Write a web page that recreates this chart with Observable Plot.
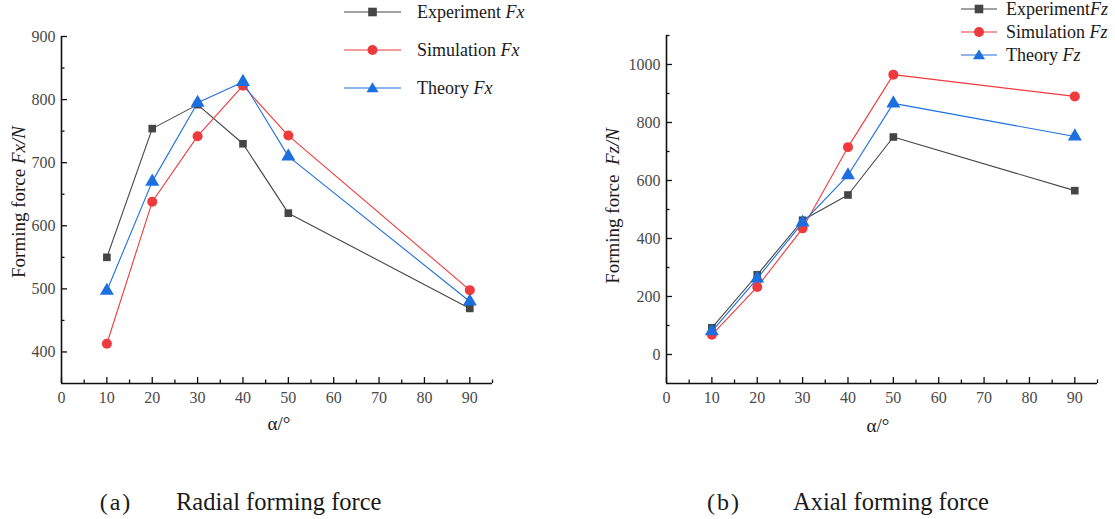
<!DOCTYPE html>
<html><head><meta charset="utf-8">
<script src="https://cdn.jsdelivr.net/npm/d3@7"></script>
<script src="https://cdn.jsdelivr.net/npm/@observablehq/plot@0.6"></script>
<style>
body{margin:0;background:#fff;font-family:"Liberation Serif","Times New Roman",serif;}
#wrap{position:relative;width:1115px;height:519px;overflow:hidden;background:#fff}
#wrap svg text{font-family:"Liberation Serif","Times New Roman",serif !important}
.panel{position:absolute;top:0}
.abs{position:absolute;white-space:nowrap;color:#1a1a1a;line-height:1;font-family:"Liberation Serif","Times New Roman",serif}
.leg{position:absolute;white-space:nowrap;font-size:18px;color:#1a1a1a;line-height:1;font-family:"Liberation Serif","Times New Roman",serif}
.cc{transform:translate(-50%,-50%)}
.ylab{transform:translate(-50%,-50%) rotate(-90deg);font-size:19px}
</style></head><body><div id="wrap"></div>
<script>
// ---- data ----
const alpha = [10, 20, 30, 40, 50, 90];
const expFx = [550, 754, 792, 730, 620, 469];
const simFx = [413, 638, 742, 822, 743, 498];
const theFx = [497, 670, 795, 828, 710, 480];
const expFz = [92, 275, 463, 550, 750, 565];
const simFz = [68, 233, 435, 715, 965, 890];
const theFz = [80, 262, 455, 618, 866, 752];
const xTicks = [0, 10, 20, 30, 40, 50, 60, 70, 80, 90];
const xMinor = [5, 15, 25, 35, 45, 55, 65, 75, 85, 95];
const fxTicks = [400, 500, 600, 700, 800, 900];
const fxMinor = [450, 550, 650, 750, 850];
const fzTicks = [0, 200, 400, 600, 800, 1000];
const fzMinor = [100, 300, 500, 700, 900, 1100];
const seriesNames = ["Experiment", "Simulation", "Theory"];
const seriesColors = ["#454545", "#ef3a3d", "#1d6fe0"];
const seriesSymbols = ["square", "circle", "triangle"];
const legendFx = ["Experiment <i>Fx</i>", "Simulation <i>Fx</i>", "Theory <i>Fx</i>"];
const legendFz = ["Experiment<i>Fz</i>", "Simulation <i>Fz</i>", "Theory <i>Fz</i>"];

const wrap = document.getElementById("wrap");
const FONT = '"Liberation Serif", "Times New Roman", serif';

function panel({values, yDomain, yTicks, yMinor, width, marginLeft, marginRight, marginTop, marginBottom}) {
  const marks = [
    Plot.axisX({ticks: xTicks, tickSize: 0, tickPadding: 8, label: null, tickFormat: d => String(d), fontFamily: FONT, fill: "#4a4a4a"}),
    Plot.axisY({ticks: yTicks, tickSize: 0, tickPadding: 6, label: null, tickFormat: d => String(d), fontFamily: FONT, fill: "#4a4a4a"}),
    Plot.ruleX(xTicks, {x: d => d, y1: yDomain[0], y2: yDomain[0], insetTop: -6, stroke: "#111", strokeWidth: 1.3}),
    Plot.ruleX(xMinor, {x: d => d, y1: yDomain[0], y2: yDomain[0], insetTop: -3.5, stroke: "#111", strokeWidth: 1.3}),
    Plot.ruleY(yTicks, {y: d => d, x1: 0, x2: 0, insetRight: -6, stroke: "#111", strokeWidth: 1.3}),
    Plot.ruleY(yMinor, {y: d => d, x1: 0, x2: 0, insetRight: -3.5, stroke: "#111", strokeWidth: 1.3}),
    Plot.ruleX([0], {y1: yDomain[0], y2: yDomain[1], stroke: "#111", strokeWidth: 1.6}),
    Plot.ruleY([yDomain[0]], {x1: 0, x2: 95, stroke: "#111", strokeWidth: 1.6})
  ];
  values.forEach((vals, k) => {
    const rows = alpha.map((a, i) => ({a, v: vals[i]}));
    const r = seriesSymbols[k] === "square" ? 4.3 : seriesSymbols[k] === "circle" ? 5 : 5.2;
    marks.push(Plot.line(rows, {x: "a", y: "v", stroke: seriesColors[k], strokeWidth: 1.1}));
    marks.push(Plot.dot(rows, {x: "a", y: "v", symbol: seriesSymbols[k], fill: seriesColors[k], r}));
  });
  return Plot.plot({
    width, height: 440, marginLeft, marginRight, marginTop, marginBottom,
    style: {fontFamily: FONT, fontSize: "16px", color: "#4a4a4a", background: "transparent", overflow: "visible"},
    x: {domain: [0, 95]},
    y: {domain: yDomain},
    marks
  });
}

const p1 = panel({values: [expFx, simFx, theFx], yDomain: [350, 900], yTicks: fxTicks, yMinor: fxMinor,
  width: 557, marginLeft: 61, marginRight: 65, marginTop: 36, marginBottom: 57});
const p2 = panel({values: [expFz, simFz, theFz], yDomain: [-100, 1100], yTicks: fzTicks, yMinor: fzMinor,
  width: 558, marginLeft: 109, marginRight: 18, marginTop: 35, marginBottom: 57});
const d1 = document.createElement("div"); d1.className = "panel"; d1.style.left = "0px"; d1.appendChild(p1); wrap.appendChild(d1);
const d2 = document.createElement("div"); d2.className = "panel"; d2.style.left = "557px"; d2.appendChild(p2); wrap.appendChild(d2);

function add(html, cls, left, top, extra) {
  const e = document.createElement("div");
  e.className = cls; e.innerHTML = html;
  e.style.left = left + "px"; e.style.top = top + "px";
  if (extra) Object.assign(e.style, extra);
  wrap.appendChild(e);
  return e;
}
function swatch(k, w) {
  const c = seriesColors[k], m = w / 2;
  let shape;
  if (k === 0) shape = `<rect x="${m-4.3}" y="5.7" width="8.6" height="8.6" fill="${c}"/>`;
  else if (k === 1) shape = `<circle cx="${m}" cy="10" r="5" fill="${c}"/>`;
  else shape = `<path d="M${m},4.2 L${m+6},14.3 L${m-6},14.3 Z" fill="${c}"/>`;
  return `<svg width="${w}" height="20" style="display:block"><line x1="0" x2="${w}" y1="10" y2="10" stroke="${c}" stroke-width="1.2"/>${shape}</svg>`;
}
function legend(labels, lineX, lineW, textX, rowsY) {
  labels.forEach((t, k) => {
    add(swatch(k, lineW), "abs", lineX, rowsY[k] - 10);
    add(t, "leg", textX, rowsY[k], {transform: "translateY(-50%)"});
  });
}
legend(legendFx, 344, 57, 417, [12, 50, 88]);
legend(legendFz, 961, 36, 1006, [9, 32, 55]);

add('Forming force <i>Fx/N</i>', "abs ylab", 18, 202);
add('Forming force&nbsp;&nbsp;<i>Fz/N</i>', "abs ylab", 612, 206);
add('α/°', "abs cc", 279, 423, {fontSize: "19px"});
add('α/°', "abs cc", 878, 425, {fontSize: "19px"});
add('(a)', "abs cc", 116, 502, {fontSize: "24px", letterSpacing: "2px"});
add('Radial forming force', "abs", 176, 502, {fontSize: "24.5px", transform: "translateY(-50%)"});
add('(b)', "abs cc", 724, 502, {fontSize: "24px", letterSpacing: "2px"});
add('Axial forming force', "abs", 793, 502, {fontSize: "24.5px", transform: "translateY(-50%)"});
</script></body></html>
